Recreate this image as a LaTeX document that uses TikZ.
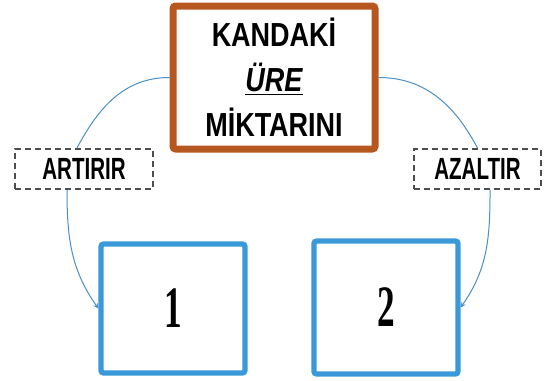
\documentclass[tikz,border=0pt]{standalone}
\usepackage{fontspec}
\setmainfont{Liberation Sans}
\newfontfamily\boxfont{Liberation Sans}[FakeStretch=0.81]
\newfontfamily\labfont{Liberation Sans}[FakeStretch=0.67]
\newfontfamily\digfont{Liberation Serif}[FakeStretch=0.6]
\definecolor{ureBrown}{HTML}{B5571F}
\definecolor{boxBlue}{HTML}{3A9AD9}
\definecolor{linkBlue}{HTML}{4A8FC4}
\definecolor{dashGray}{HTML}{4D4D4D}
\tikzset{
  topbox/.style={draw=ureBrown, line width=5.25pt, rounded corners=2pt, fill=white, align=center,
    font=\boxfont\bfseries\fontsize{25}{33.75}\selectfont},
  numbox/.style={draw=boxBlue, line width=4pt, rounded corners=2pt, minimum width=108pt,
    font=\digfont\bfseries\fontsize{44}{44}\selectfont},
  labbox/.style={draw=dashGray, line width=1.5pt, dash pattern=on 4.5pt off 3pt, minimum height=30pt,
    font=\labfont\bfseries\fontsize{23}{23}\selectfont},
  link/.style={draw=linkBlue, line width=0.75pt}
}
\begin{document}
\begin{tikzpicture}[x=0.75pt,y=-0.75pt]
\useasboundingbox (0,0) rectangle (544,380);
\node[topbox, minimum width=151.5pt, minimum height=107.25pt] (top) at (274,77.5) {KANDAKİ\\ \underline{\itshape ÜRE}\\ MİKTARINI};
\node[labbox, minimum width=103.5pt] (inc) at (84,169) {ARTIRIR};
\node[labbox, minimum width=95.25pt] (dec) at (477.5,169) {AZALTIR};
\node[numbox, minimum height=96.75pt] (one) at (173,308.5) {1};
\node[numbox, minimum height=99.75pt] (two) at (386,307.5) {2};

\path[link] (top.west) to[out=180, in=62] ([xshift=-5.25pt]inc.north);
\path[link,->,>=stealth] ([xshift=-12.75pt]inc.south) to[out=-90, in=125] (one.west);
\path[link] (top.east) to[out=0, in=118] (dec.north);
\path[link,->,>=stealth] ([xshift=9.4pt]dec.south) to[out=-90, in=55] (two.east);
\end{tikzpicture}
\end{document}
